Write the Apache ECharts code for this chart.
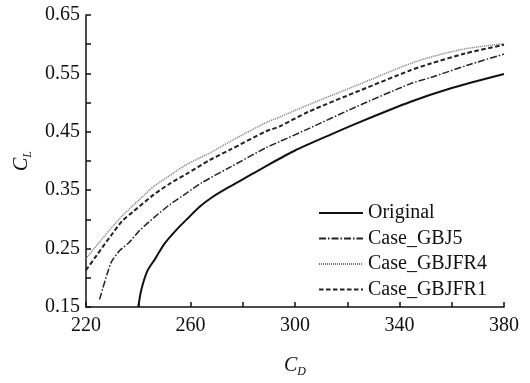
<!DOCTYPE html>
<html>
<head>
<meta charset="utf-8">
<script src="https://cdn.jsdelivr.net/npm/echarts@6/dist/echarts.min.js"></script>
<style>html,body{margin:0;padding:0;background:#fff;}#c{width:530px;height:383px;}</style>
</head>
<body>
<div id="c"></div>
<script>
const seriesNames = ['Original', 'Case_GBJ5', 'Case_GBJFR4', 'Case_GBJFR1'];
const original = [[240,0.15],[241.2,0.18],[243.5,0.212],[246.4,0.232],[250,0.258],[254.6,0.282],[259,0.302],[263.6,0.322],[268,0.337],[273.8,0.353],[279,0.366],[290,0.394],[300,0.418],[313,0.444],[325,0.467],[344,0.501],[360,0.525],[380,0.549]];
const caseGBJ5 = [[225.2,0.163],[229.6,0.226],[233,0.247],[236.6,0.261],[240.5,0.281],[246,0.303],[252,0.325],[258.5,0.345],[264,0.362],[275,0.389],[289,0.423],[294,0.433],[305,0.455],[323,0.492],[344,0.532],[352,0.543],[366,0.564],[380,0.583]];
const caseGBJFR4 = [[220,0.233],[225.5,0.263],[231,0.292],[234.5,0.309],[240,0.332],[245.8,0.356],[252,0.375],[258.5,0.394],[267.5,0.414],[275,0.433],[289,0.466],[294,0.475],[305,0.496],[325,0.532],[343,0.565],[352,0.578],[365,0.592],[378,0.600],[380,0.601]];
const caseGBJFR1 = [[220,0.213],[224,0.238],[229.5,0.272],[234,0.298],[238,0.313],[245.8,0.342],[252,0.361],[258.5,0.378],[267.5,0.402],[275,0.419],[289,0.451],[294,0.459],[305,0.484],[325,0.521],[344,0.555],[352,0.567],[365,0.584],[379,0.598],[380,0.599]];
const xMin = 220, xMax = 380, xStep = 20, xLabelStep = 40;
const yMin = 0.15, yMax = 0.65, yStep = 0.05;

const FONT = '"Liberation Serif", "Times New Roman", serif';
const chart = echarts.init(document.getElementById('c'));
function mk(name, data, color, width, type) {
  return {
    name: name, type: 'line', data: data, symbol: 'none', smooth: 0.25,
    lineStyle: { color: color, width: width, type: type },
    itemStyle: { color: color }
  };
}
const nameRich = {
  c: { fontFamily: FONT, fontStyle: 'italic', fontSize: 20, color: '#111', lineHeight: 24 },
  s: { fontFamily: FONT, fontStyle: 'italic', fontSize: 12, color: '#111', lineHeight: 12, verticalAlign: 'bottom' }
};
chart.setOption({
  backgroundColor: '#fff',
  animation: false,
  grid: { left: 86, right: 26, top: 15, bottom: 65, containLabel: false },
  legend: {
    orient: 'vertical', left: 318, top: 203, padding: 0,
    itemWidth: 44, itemHeight: 20, itemGap: 5.5,
    data: seriesNames,
    itemStyle: { opacity: 0 },
    textStyle: { fontFamily: FONT, fontSize: 20, color: '#111' }
  },
  xAxis: {
    type: 'value', min: xMin, max: xMax, interval: xStep,
    axisLine: { lineStyle: { color: '#111', width: 1.5 } },
    axisTick: { inside: true, length: 5, lineStyle: { color: '#111', width: 1.5 } },
    axisLabel: { fontFamily: FONT, fontSize: 20, color: '#111', margin: 9,
      formatter: v => ((Math.round(v) - xMin) % xLabelStep === 0 ? String(Math.round(v)) : '') },
    splitLine: { show: false },
    name: '{c|C}{s|D}', nameLocation: 'middle', nameGap: 47,
    nameTextStyle: { rich: nameRich }
  },
  yAxis: {
    type: 'value', min: yMin, max: yMax, interval: yStep,
    axisLine: { show: true, lineStyle: { color: '#111', width: 1.5 } },
    axisTick: { show: true, inside: true, length: 5, lineStyle: { color: '#111', width: 1.5 } },
    axisLabel: { fontFamily: FONT, fontSize: 20, color: '#111', margin: 6,
      formatter: v => (Math.round(v * 100) % 10 === 5 ? v.toFixed(2) : '') },
    splitLine: { show: false },
    name: '{c|C}{s|L}', nameLocation: 'middle', nameGap: 50, nameRotate: 90,
    nameTextStyle: { rich: nameRich }
  },
  series: [
    mk(seriesNames[0], original, '#111', 2, 'solid'),
    mk(seriesNames[1], caseGBJ5, '#222', 1.5, [7, 2, 1.5, 2]),
    mk(seriesNames[2], caseGBJFR4, '#777', 1.5, [1, 1]),
    mk(seriesNames[3], caseGBJFR1, '#222', 2, [4.5, 2.5])
  ]
});
</script>
</body>
</html>
